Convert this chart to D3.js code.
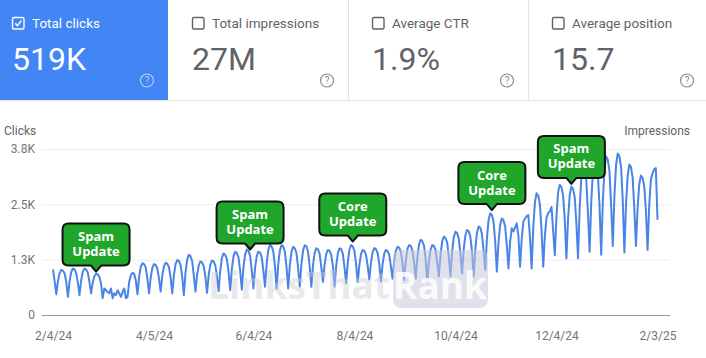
<!DOCTYPE html>
<html>
<head>
<meta charset="utf-8">
<script src="https://cdn.jsdelivr.net/npm/d3@7"></script>
<style>
  body { margin: 0; background: #fff; }
  svg { display: block; font-family: Roboto, Arial, sans-serif; }
</style>
</head>
<body>
<div id="chart"></div>
<script>
var width = 706, height = 358;

// header cards
var cardTitles = ["Total clicks", "Total impressions", "Average CTR", "Average position"];
var cardValues = ["519K", "27M", "1.9%", "15.7"];
var cardSelected = [true, false, false, false];

// daily clicks, first day = 2/4/24
var startDate = "2024-02-04";
var endDate = "2025-02-03";
var clicks = [
  1030, 760,
  470, 770, 950, 1020, 1000, 940, 750,
  410, 760, 970, 1050, 1030, 950, 730,
  450, 780, 980, 1050, 1030, 960, 750,
  490, 730, 880, 930, 920, 860, 710,
  380, 600, 560, 520, 490, 600, 380,
  490, 450, 560, 490, 410, 520, 600,
  380, 410, 750, 900, 950, 930, 780,
  470, 860, 1090, 1170, 1150, 1070, 820,
  490, 850, 1070, 1150, 1130, 1050, 820,
  530, 890, 1100, 1180, 1160, 1080, 860,
  490, 900, 1150, 1240, 1220, 1130, 870,
  450, 950, 1250, 1360, 1330, 1220, 900,
  530, 900, 1120, 1210, 1190, 1100, 870,
  500, 900, 1140, 1230, 1210, 1120, 870,
  540, 1010, 1290, 1390, 1360, 1260, 970,
  560, 1040, 1330, 1430, 1400, 1300, 1000,
  570, 1070, 1370, 1480, 1450, 1340, 1020,
  600, 1060, 1330, 1430, 1410, 1310, 1010,
  640, 1160, 1470, 1580, 1550, 1440, 1110,
  600, 1140, 1460, 1580, 1550, 1430, 1090,
  600, 1120, 1430, 1540, 1510, 1400, 1070,
  640, 1150, 1460, 1575, 1555, 1430, 1100,
  640, 1120, 1410, 1510, 1480, 1380, 1080,
  750, 1150, 1380, 1470, 1450, 1360, 1110,
  640, 1110, 1400, 1505, 1490, 1385, 1075,
  720, 1190, 1480, 1580, 1550, 1450, 1150,
  740, 1140, 1380, 1470, 1450, 1360, 1110,
  800, 1190, 1420, 1510, 1490, 1400, 1160,
  755, 1145, 1385, 1468, 1445, 1365, 1105,
  820, 1220, 1450, 1540, 1520, 1430, 1180,
  790, 1230, 1490, 1580, 1560, 1460, 1190,
  820, 1300, 1590, 1700, 1670, 1570, 1260,
  750, 1210, 1480, 1580, 1560, 1460, 1170,
  870, 1370, 1660, 1770, 1740, 1640, 1320,
  870, 1430, 1760, 1880, 1850, 1730, 1380,
  940, 1480, 1800, 1920, 1890, 1770, 1430,
  870, 1490, 1860, 2000, 1970, 1830, 1440,
  1020, 1720, 2150, 2300, 2260, 2110, 1660,
  980, 1640, 2040, 2180, 2140, 2000, 1580,
  1050, 1650, 1960, 1890, 1980, 2070, 1800,
  1090, 1700, 2110, 2180, 2230, 2260, 1750,
  1050, 1990, 2550, 2750, 2700, 2500, 1900,
  1090, 1800, 2200, 2300, 2340, 2440, 1900,
  1350, 2230, 2780, 2940, 2890, 2700, 2150,
  1280, 2170, 2710, 2900, 2850, 2660, 2090,
  1280, 2420, 3100, 3350, 3290, 3040, 2320,
  1430, 2560, 3230, 3480, 3420, 3170, 2460,
  1360, 2580, 3310, 3580, 3510, 3250, 2470,
  1560, 2710, 3400, 3650, 3590, 3340, 2600,
  1410, 2500, 3160, 3400, 3340, 3100, 2400,
  1560, 2430, 2960, 3150, 3100, 2910, 2360,
  1470, 2480, 3050, 3200, 3290, 3320, 2150
];

var yTicks = [0, 1250, 2500, 3750];
var yTickLabels = ["0", "1.3K", "2.5K", "3.8K"];
var xTickDates = ["2024-02-04", "2024-04-05", "2024-06-04", "2024-08-04", "2024-10-04", "2024-12-04", "2025-02-03"];
var xTickLabels = ["2/4/24", "4/5/24", "6/4/24", "8/4/24", "10/4/24", "12/4/24", "2/3/25"];

// update callouts
var annDates = ["2024-03-01", "2024-06-02", "2024-08-03", "2024-10-26", "2024-12-13"];
var annValues = [980, 1480, 1660, 2370, 2960];
var annTop = ["Spam", "Spam", "Core", "Core", "Spam"];
var annBottom = ["Update", "Update", "Update", "Update", "Update"];

var parse = d3.timeParse("%Y-%m-%d");
var start = parse(startDate);
var data = clicks.map(function(v, i) {
  return { date: d3.timeDay.offset(start, i), value: v };
});

var svg = d3.select("#chart").append("svg")
  .attr("width", width)
  .attr("height", height);

// ---------- header ----------
var cardW = 180;
var cards = svg.selectAll("g.card")
  .data(cardTitles)
  .enter().append("g")
  .attr("class", "card")
  .attr("transform", function(d, i) { return "translate(" + (-12 + i * cardW) + ",0)"; });

cards.append("rect")
  .attr("width", cardW).attr("height", 100)
  .attr("fill", function(d, i) { return cardSelected[i] ? "#4285f4" : "#fff"; });

svg.append("line").attr("x1", 0).attr("x2", width).attr("y1", 100.5).attr("y2", 100.5)
  .attr("stroke", "#e3e3e3");
[2, 3].forEach(function(i) {
  var xx = -12 + i * cardW + 0.5;
  svg.append("line").attr("x1", xx).attr("x2", xx).attr("y1", 0).attr("y2", 100)
    .attr("stroke", "#e3e3e3");
});

cards.append("rect")
  .attr("x", 24.5).attr("y", 17.5).attr("width", 11.5).attr("height", 11.5).attr("rx", 1.5)
  .attr("fill", "none")
  .attr("stroke", function(d, i) { return cardSelected[i] ? "#fff" : "#5f6368"; })
  .attr("stroke-width", 1.4);

cards.filter(function(d, i) { return cardSelected[i]; })
  .append("path")
  .attr("d", "M27.3,23.3 L29.4,25.6 L33.4,20.6")
  .attr("fill", "none").attr("stroke", "#fff").attr("stroke-width", 1.5);

cards.append("text")
  .attr("x", 44).attr("y", 28)
  .attr("font-size", 13.5)
  .attr("fill", function(d, i) { return cardSelected[i] ? "#fff" : "#5f6368"; })
  .text(function(d) { return d; });

cards.append("text")
  .attr("x", 24).attr("y", 70)
  .attr("font-size", 32)
  .attr("fill", function(d, i) { return cardSelected[i] ? "#fff" : "#5f6368"; })
  .text(function(d, i) { return cardValues[i]; });

cards.append("circle")
  .attr("cx", 159).attr("cy", 80.5).attr("r", 6.5)
  .attr("fill", "none")
  .attr("stroke", function(d, i) { return cardSelected[i] ? "rgba(255,255,255,0.6)" : "#8a8a8a"; })
  .attr("stroke-width", 1.2);

cards.append("text")
  .attr("x", 159).attr("y", 84)
  .attr("text-anchor", "middle")
  .attr("font-size", 10)
  .attr("fill", function(d, i) { return cardSelected[i] ? "rgba(255,255,255,0.6)" : "#8a8a8a"; })
  .text("?");

// ---------- chart ----------
var x = d3.scaleTime()
  .domain([parse(startDate), parse(endDate)])
  .range([53, 657.5]);

var y = d3.scaleLinear()
  .domain([0, 3750])
  .range([315, 149]);

var yAxis = svg.append("g")
  .attr("transform", "translate(42,0)")
  .call(d3.axisLeft(y).tickValues(yTicks).tickSize(-628).tickPadding(7)
    .tickFormat(function(d, i) { return yTickLabels[i]; }));
yAxis.select(".domain").remove();
yAxis.selectAll(".tick line")
  .attr("stroke", function(d) { return d === 0 ? "#9a9a9a" : "#ececec"; });
yAxis.selectAll(".tick text")
  .attr("fill", "#70757a").attr("font-size", 12).attr("font-family", "Roboto, Arial, sans-serif");

var xAxis = svg.append("g")
  .attr("transform", "translate(0,315)")
  .call(d3.axisBottom(x).tickValues(xTickDates.map(parse)).tickSize(0).tickPadding(16.5)
    .tickFormat(function(d, i) { return xTickLabels[i]; }));
xAxis.select(".domain").remove();
xAxis.selectAll(".tick text")
  .attr("fill", "#70757a").attr("font-size", 12).attr("font-family", "Roboto, Arial, sans-serif");

svg.append("text").attr("x", 4).attr("y", 135)
  .attr("font-size", 12).attr("fill", "#5f6368").text("Clicks");
svg.append("text").attr("x", 690).attr("y", 135).attr("text-anchor", "end")
  .attr("font-size", 12).attr("fill", "#5f6368").text("Impressions");

var line = d3.line()
  .x(function(d) { return x(d.date); })
  .y(function(d) { return y(d.value); });

svg.append("path")
  .datum(data)
  .attr("fill", "none")
  .attr("stroke", "#4a84e6")
  .attr("stroke-width", 2)
  .attr("stroke-linejoin", "round")
  .attr("d", line);

// watermark
var wm = svg.append("g").attr("font-family", "'Open Sans', Arial, sans-serif").attr("font-weight", 700);
wm.append("text").attr("x", 390).attr("y", 299).attr("text-anchor", "end")
  .attr("font-size", 37).attr("fill", "rgba(205,205,210,0.45)").text("LinksThat");
wm.append("rect").attr("x", 393).attr("y", 250).attr("width", 95).attr("height", 58).attr("rx", 8)
  .attr("fill", "rgba(200,200,218,0.55)");
wm.append("text").attr("x", 440).attr("y", 299).attr("text-anchor", "middle")
  .attr("font-size", 37).attr("fill", "rgba(255,255,255,0.85)").text("Rank");

// callouts
function calloutPath(x0, y0, w, h, r, tx, ty, pw) {
  var b = y0 + h;
  return "M" + (x0 + r) + "," + y0 +
    "H" + (x0 + w - r) + "Q" + (x0 + w) + "," + y0 + " " + (x0 + w) + "," + (y0 + r) +
    "V" + (b - r) + "Q" + (x0 + w) + "," + b + " " + (x0 + w - r) + "," + b +
    "H" + (tx + pw) + "L" + tx + "," + ty + "L" + (tx - pw) + "," + b +
    "H" + (x0 + r) + "Q" + x0 + "," + b + " " + x0 + "," + (b - r) +
    "V" + (y0 + r) + "Q" + x0 + "," + y0 + " " + (x0 + r) + "," + y0 + "Z";
}

var boxW = 67, boxH = 42;
var ann = svg.selectAll("g.ann")
  .data(annDates)
  .enter().append("g")
  .attr("class", "ann");

ann.each(function(d, i) {
  var g = d3.select(this);
  var tx = x(parse(d)), ty = y(annValues[i]);
  var x0 = tx - boxW / 2, y0 = ty - 6 - boxH;
  g.append("path")
    .attr("d", calloutPath(x0, y0, boxW, boxH, 6, tx, ty, 5))
    .attr("fill", "#1fa62b")
    .attr("stroke", "#111")
    .attr("stroke-width", 2)
    .attr("stroke-linejoin", "round");
  g.append("text").attr("x", tx).attr("y", y0 + 17.5)
    .attr("text-anchor", "middle").attr("fill", "#fff")
    .attr("font-family", "'Open Sans', Arial, sans-serif").attr("font-weight", 700).attr("font-size", 13)
    .text(annTop[i]);
  g.append("text").attr("x", tx).attr("y", y0 + 32.5)
    .attr("text-anchor", "middle").attr("fill", "#fff")
    .attr("font-family", "'Open Sans', Arial, sans-serif").attr("font-weight", 700).attr("font-size", 13)
    .text(annBottom[i]);
});
</script>
</body>
</html>
